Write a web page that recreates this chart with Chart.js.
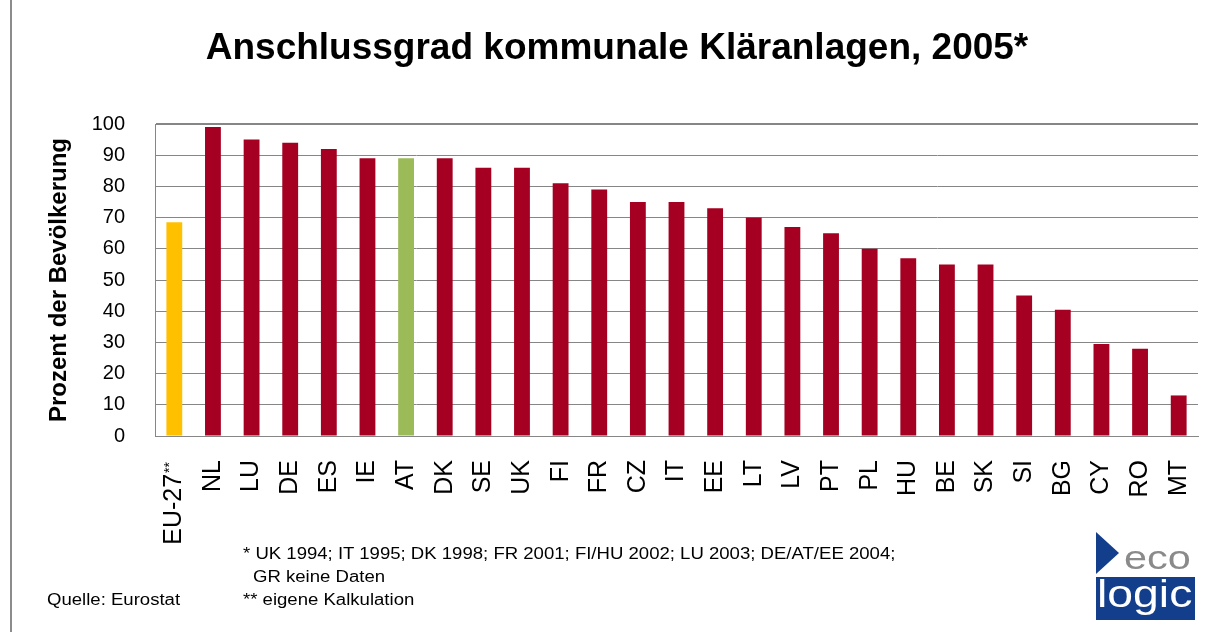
<!DOCTYPE html>
<html>
<head>
<meta charset="utf-8">
<script src="https://cdn.jsdelivr.net/npm/chart.js@4/dist/chart.umd.min.js"></script>
<style>
  body { margin: 0; background: #fff; font-family: "Liberation Sans", Arial, sans-serif; }
  #wrap { position: relative; width: 1221px; height: 633px; overflow: hidden; }
  #wrap canvas { position: absolute; left: 0; top: 0; }
  .rahmen { position: absolute; left: 10px; top: 0; width: 2px; height: 632px; background: #8c8c8c; }
  .titel { position: absolute; left: 0; top: 29px; width: 1234px; text-align: center;
           font-weight: bold; font-size: 37px; line-height: 36px; color: #000; }
  .note { position: absolute; font-size: 16px; line-height: 16px; color: #000; white-space: nowrap;
          transform: scaleX(1.16); transform-origin: left top; }
  .logo { position: absolute; left: 1096px; top: 532px; width: 100px; height: 88px; }
  .logo .dreieck { position: absolute; left: 0; top: 0; width: 0; height: 0;
                   border-top: 21px solid transparent; border-bottom: 21px solid transparent;
                   border-left: 23px solid #123e8c; }
  .logo .eco { position: absolute; left: 28px; top: 8px; font-size: 34px; line-height: 34px;
               color: #8a8a8a; transform: scaleX(1.22); transform-origin: left top; }
  .logo .box { position: absolute; left: 0; top: 45px; width: 99px; height: 43px; background: #123e8c; overflow: hidden; }
  .logo .logic { position: absolute; left: 1px; top: -2px; font-size: 38px; line-height: 38px;
                 color: #fff; transform: scaleX(1.22); transform-origin: left top; }
</style>
</head>
<body>
<div id="wrap">
  <canvas id="grafik" width="1221" height="633"></canvas>
  <div class="rahmen"></div>
  <div class="titel">Anschlussgrad kommunale Kläranlagen, 2005*</div>
  <div class="note" style="left:243px; top:546px;">* UK 1994; IT 1995; DK 1998; FR 2001; FI/HU 2002; LU 2003; DE/AT/EE 2004;</div>
  <div class="note" style="left:253px; top:569px;">GR keine Daten</div>
  <div class="note" style="left:243px; top:592px;">** eigene Kalkulation</div>
  <div class="note" style="left:47px; top:592px;">Quelle: Eurostat</div>
  <div class="logo">
    <div class="dreieck"></div>
    <div class="eco">eco</div>
    <div class="box"><div class="logic">logic</div></div>
  </div>
</div>
<script>
// Länder (Reihenfolge wie im Original)
const laender = ["EU-27", "NL", "LU", "DE", "ES", "IE", "AT", "DK", "SE", "UK", "FI", "FR", "CZ", "IT",
                 "EE", "LT", "LV", "PT", "PL", "HU", "BE", "SK", "SI", "BG", "CY", "RO", "MT"];
// Anschlussgrad in Prozent der Bevölkerung
const anschlussgrad = [68.5, 99, 95, 94, 92, 89, 89, 89, 86, 86, 81, 79, 75, 75,
                       73, 70, 67, 65, 60, 57, 55, 55, 45, 40.5, 29.5, 28, 13];
// Fußnotenzeichen am Kategorienamen
const fussnote = ["**", "", "", "", "", "", "", "", "", "", "", "", "", "",
                  "", "", "", "", "", "", "", "", "", "", "", "", ""];
const yTicks = [0, 10, 20, 30, 40, 50, 60, 70, 80, 90, 100];

const ROT = "#a50021", GELB = "#ffc000", GRUEN = "#9bbb59";
const GRID = "#868686";
const schrift = '"Liberation Sans", Arial, sans-serif';

function farbe(ctx) {
    const land = laender[ctx.dataIndex];
    if (land === "EU-27") return GELB;
    if (land === "AT") return GRUEN;
    return ROT;
}

// Labels mit hochgestellten Sternchen selbst zeichnen (an Position der Skala)
const hochgestellt = {
    id: "hochgestellt",
    afterDraw(chart) {
        const xs = chart.scales.x;
        const c = chart.ctx;
        for (let i = 0; i < laender.length; i++) {
            if (!fussnote[i]) continue;
            const x = xs.getPixelForTick(i);
            const y0 = xs.top + 26;
            c.save();
            c.translate(x, y0);
            c.rotate(-Math.PI / 2);
            c.fillStyle = "#000";
            c.textBaseline = "middle";
            c.textAlign = "right";
            c.font = "14px " + schrift;
            c.fillText(fussnote[i], 0, -4);
            const w = c.measureText(fussnote[i]).width;
            c.font = "25px " + schrift;
            c.fillText(laender[i], -w - 1, 0);
            c.restore();
        }
    }
};

new Chart(document.getElementById("grafik"), {
    type: "bar",
    data: {
        labels: laender,
        datasets: [{
            label: "Anschlussgrad",
            data: anschlussgrad,
            backgroundColor: farbe,
            categoryPercentage: 1,
            barPercentage: 0.41
        }]
    },
    options: {
        responsive: false,
        animation: false,
        layout: { padding: { left: 0, right: 23, top: 124, bottom: 0 } },
        plugins: { legend: { display: false }, tooltip: { enabled: false } },
        scales: {
            x: {
                afterFit(s) { s.height = 633 - 436; s.paddingLeft = 0; s.paddingRight = 0; },
                grid: { display: false },
                border: { display: true, color: GRID, width: 1 },
                ticks: {
                    minRotation: 90, maxRotation: 90, padding: 16, autoSkip: false,
                    color: "#000",
                    font: { family: schrift, size: 25 },
                    callback: (v, i) => fussnote[i] ? "" : laender[i]
                }
            },
            y: {
                min: 0, max: 100,
                afterFit(s) { s.width = 155; },
                afterBuildTicks(s) { s.ticks = yTicks.map(v => ({ value: v })); },
                grid: { color: GRID, lineWidth: ctx => ctx.tick && ctx.tick.value === 100 ? 2 : 1, drawTicks: false },
                border: { display: true, color: GRID, width: 1 },
                ticks: { padding: 30, color: "#000", font: { family: schrift, size: 20 } },
                title: {
                    display: true,
                    text: "Prozent der Bevölkerung",
                    color: "#000",
                    font: { family: schrift, size: 24, weight: "bold" },
                    padding: { top: 45, bottom: 0 }
                }
            }
        }
    },
    plugins: [hochgestellt]
});
</script>
</body>
</html>
